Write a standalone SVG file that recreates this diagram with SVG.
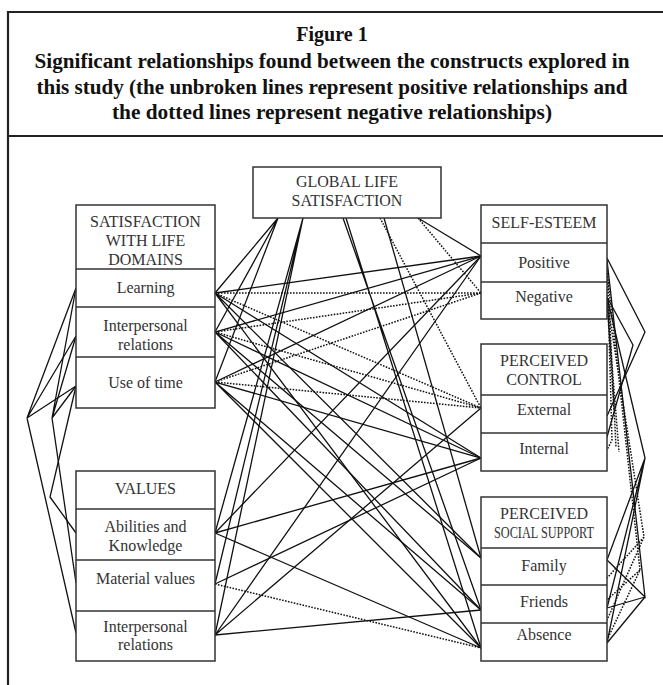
<svg xmlns="http://www.w3.org/2000/svg" width="663" height="685" viewBox="0 0 663 685">
<style>
.frame{stroke:#222;stroke-width:2.2;fill:none}
.box{fill:#fff;stroke:#333;stroke-width:1.5}
.sep{stroke:#333;stroke-width:1.5}
.t{font-family:"Liberation Serif","Times New Roman",serif;font-size:16px;fill:#333;text-anchor:middle}
.h{font-family:"Liberation Serif","Times New Roman",serif;font-size:20px;font-weight:bold;fill:#111;text-anchor:middle}
.s{stroke:#111;stroke-width:1.3;fill:none}
.d{stroke:#111;stroke-width:1.5;fill:none;stroke-dasharray:1.6 1.4}
</style>
<rect width="663" height="685" fill="#fff"/>
<g id="frame">
<path class="frame" d="M8,685 V12 H663 M8,136 H663"/>
<text class="h" x="332" y="41">Figure 1</text>
<text class="h" x="332" y="68" textLength="595" lengthAdjust="spacingAndGlyphs">Significant relationships found between the constructs explored in</text>
<text class="h" x="332" y="94" textLength="591" lengthAdjust="spacingAndGlyphs">this study (the unbroken lines represent positive relationships and</text>
<text class="h" x="332" y="119" textLength="440" lengthAdjust="spacingAndGlyphs">the dotted lines represent negative relationships)</text>
</g>
<g id="connectors">
<path class="s" d="M278,218 L215,293 M278,218 L215,332 M278,218 L215,382"/>
<path class="s" d="M303,218 L215,533 M303,218 L215,584 M303,218 L215,635"/>
<path class="s" d="M343,218 L481,610 M346,218 L481,648"/>
<path class="d" d="M380,218 L481,408"/>
<path class="s" d="M384,218 L481,558"/>
<path class="d" d="M418,218 L481,293"/>
<path class="s" d="M418,218 L481,256"/>
<path class="s" d="M215,293 L481,256 M215,293 L481,458 M215,293 L481,558 M215,293 L481,648"/>
<path class="d" d="M215,293 L481,293 M215,293 L481,408"/>
<path class="s" d="M215,332 L481,256 M215,332 L481,458 M215,332 L481,558 M215,332 L481,610"/>
<path class="d" d="M215,332 L481,293 M215,332 L481,408"/>
<path class="s" d="M215,382 L481,256 M215,382 L481,458 M215,382 L481,610 M215,382 L481,648"/>
<path class="d" d="M215,382 L481,293 M215,382 L481,408"/>
<path class="s" d="M215,533 L481,256 M215,533 L481,458 M215,533 L481,648"/>
<path class="s" d="M215,584 L481,458"/>
<path class="d" d="M215,584 L481,648"/>
<path class="s" d="M215,635 L481,256 M215,635 L481,408 M215,635 L481,610"/>
<path class="s" d="M76,288 L27,418 L76,336 M27,418 L76,386 M27,418 L76,633"/>
<path class="s" d="M76,288 L52,418 L76,336 M52,418 L76,386 M52,418 L76,583"/>
<path class="s" d="M76,386 L50,497 L76,533"/>
<path class="s" d="M607,258 L645,332 L607,416"/>
<path class="s" d="M607,297 L633,345 L607,437"/>
<path class="s" d="M607,297 L645,458 L607,560 M645,458 L607,608 M645,458 L607,643"/>
<path class="s" d="M607,260 L645,597 L607,560 M645,597 L607,608 M645,597 L607,643"/>
<path class="d" d="M607,262 L612,440 L607,450 M607,265 L616,447 M607,300 L614,410 M607,302 L619,452"/>
<path class="d" d="M607,300 L644,537 L607,578 M644,537 L607,620 M607,270 L640,570 L607,640 M640,570 L607,600"/>
</g>
<g id="global">
<rect class="box" x="253" y="167" width="188" height="51"/>
<text class="t" x="347" y="187">GLOBAL LIFE</text>
<text class="t" x="347" y="206">SATISFACTION</text>
</g>
<g id="satisfaction">
<rect class="box" x="76" y="205" width="139" height="203"/>
<path class="sep" d="M76,269 H215 M76,307 H215 M76,357 H215"/>
<text class="t" x="145.5" y="227">SATISFACTION</text>
<text class="t" x="145.5" y="246">WITH LIFE</text>
<text class="t" x="145.5" y="265">DOMAINS</text>
<text class="t" x="145.5" y="293">Learning</text>
<text class="t" x="145.5" y="331">Interpersonal</text>
<text class="t" x="145.5" y="350">relations</text>
<text class="t" x="145.5" y="388">Use of time</text>
</g>
<g id="values">
<rect class="box" x="76" y="471" width="139" height="190"/>
<path class="sep" d="M76,509 H215 M76,560 H215 M76,611 H215"/>
<text class="t" x="145.5" y="494">VALUES</text>
<text class="t" x="145.5" y="532">Abilities and</text>
<text class="t" x="145.5" y="551">Knowledge</text>
<text class="t" x="145.5" y="584">Material values</text>
<text class="t" x="145.5" y="632">Interpersonal</text>
<text class="t" x="145.5" y="650">relations</text>
</g>
<g id="selfesteem">
<rect class="box" x="481" y="205" width="126" height="114"/>
<path class="sep" d="M481,243 H607 M481,282 H607"/>
<text class="t" x="544" y="228">SELF-ESTEEM</text>
<text class="t" x="544" y="268">Positive</text>
<text class="t" x="544" y="302">Negative</text>
</g>
<g id="control">
<rect class="box" x="481" y="344" width="126" height="127"/>
<path class="sep" d="M481,395 H607 M481,433 H607"/>
<text class="t" x="544" y="366">PERCEIVED</text>
<text class="t" x="544" y="385">CONTROL</text>
<text class="t" x="544" y="415">External</text>
<text class="t" x="544" y="454">Internal</text>
</g>
<g id="social">
<rect class="box" x="481" y="497" width="126" height="164"/>
<path class="sep" d="M481,548 H607 M481,585 H607 M481,623 H607"/>
<text class="t" x="544" y="519">PERCEIVED</text>
<text class="t" x="544" y="538" textLength="100" lengthAdjust="spacingAndGlyphs">SOCIAL SUPPORT</text>
<text class="t" x="544" y="571">Family</text>
<text class="t" x="544" y="607">Friends</text>
<text class="t" x="544" y="640">Absence</text>
</g>
</svg>
